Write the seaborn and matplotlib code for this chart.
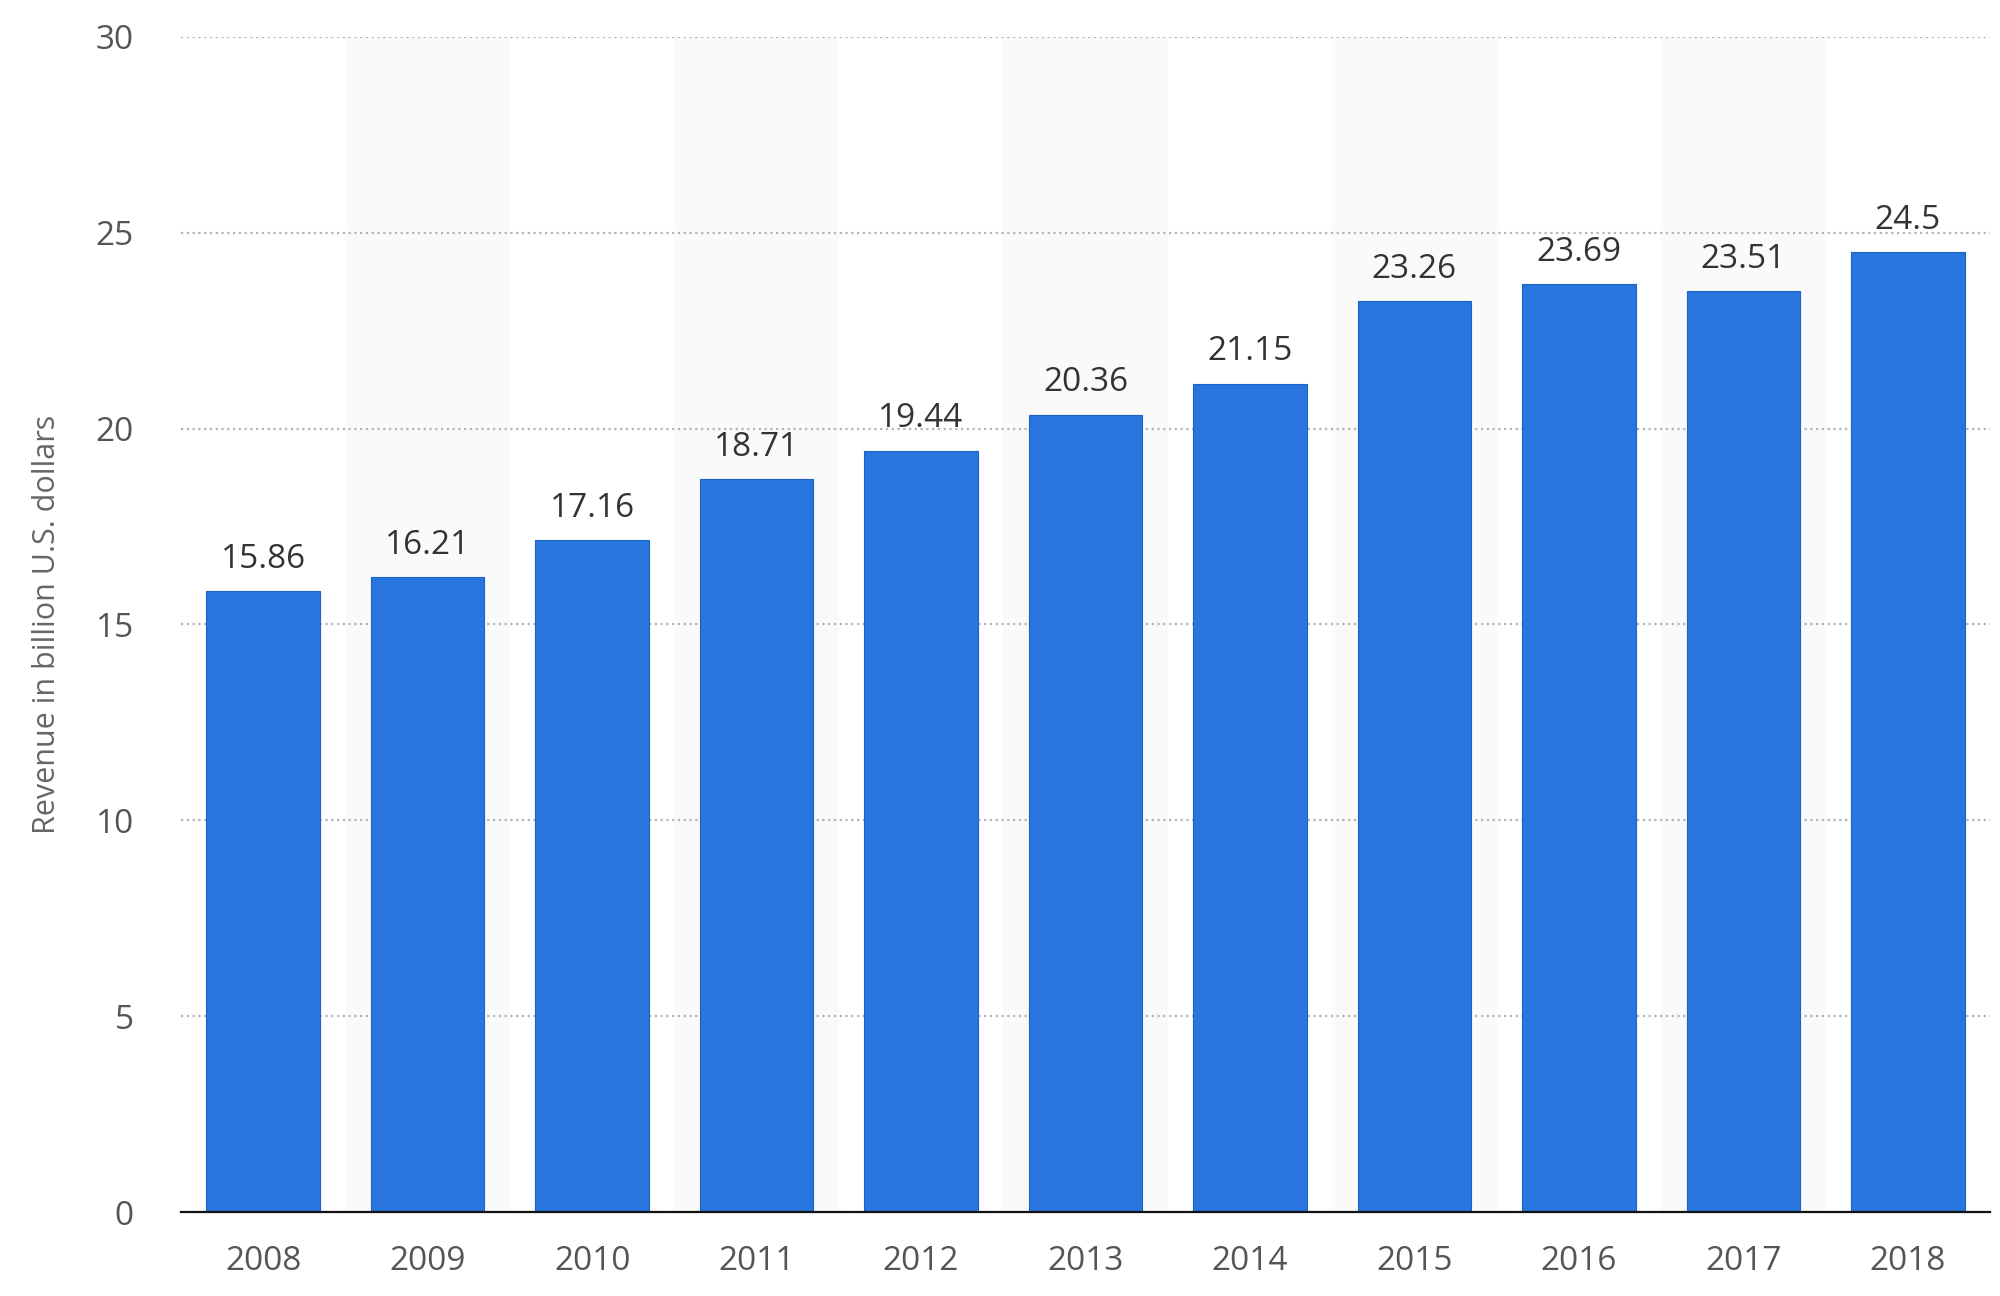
import numpy as np
import seaborn as sns
import matplotlib.pyplot as plt

years = ["2008", "2009", "2010", "2011", "2012", "2013", "2014", "2015", "2016", "2017", "2018"]
revenue = [15.86, 16.21, 17.16, 18.71, 19.44, 20.36, 21.15, 23.26, 23.69, 23.51, 24.5]
labels = ["15.86", "16.21", "17.16", "18.71", "19.44", "20.36", "21.15", "23.26", "23.69", "23.51", "24.5"]
yticks = [0, 5, 10, 15, 20, 25, 30]

sns.set_style("white")
plt.rcParams['font.family'] = ['Open Sans', 'DejaVu Sans']

fig = plt.figure(figsize=(20, 12.96), dpi=100)
ax = fig.add_axes([0.0905, 0.0648, 0.9045, 0.9067])

# light alternating column bands
for i in range(1, len(years), 2):
    ax.axvspan(i - 0.5, i + 0.5, color='#fafafa', zorder=0, lw=0)

sns.barplot(x=years, y=revenue, color='#2876dd', saturation=1, width=0.69,
            edgecolor='#1c62c4', linewidth=0.8, ax=ax, zorder=3)

ax.bar_label(ax.containers[0], labels=labels, padding=11, fontsize=24,
             color='#333333', zorder=4)

ax.set_xlim(-0.5, len(years) - 0.5)
ax.set_ylim(0, 30)
ax.set_yticks(yticks)
ax.set_yticklabels([str(t) for t in yticks])

ax.yaxis.grid(True, color='#b4b4b4', linestyle=(0, (1, 1.6)), linewidth=1.6, zorder=1)
ax.xaxis.grid(False)
ax.set_axisbelow(True)

for s in ['top', 'right', 'left']:
    ax.spines[s].set_visible(False)
ax.spines['bottom'].set_color('#111111')
ax.spines['bottom'].set_linewidth(1.6)
ax.spines['bottom'].set_zorder(5)

ax.tick_params(axis='both', length=0, labelsize=24, labelcolor='#555555')
ax.tick_params(axis='y', pad=34)
ax.tick_params(axis='x', pad=24)

ax.set_xlabel('')
ax.set_ylabel('Revenue in billion U.S. dollars', fontsize=22, color='#666666')
ax.yaxis.set_label_coords(-0.066, 0.5)

fig.savefig('out.png', dpi=100, facecolor='white')
